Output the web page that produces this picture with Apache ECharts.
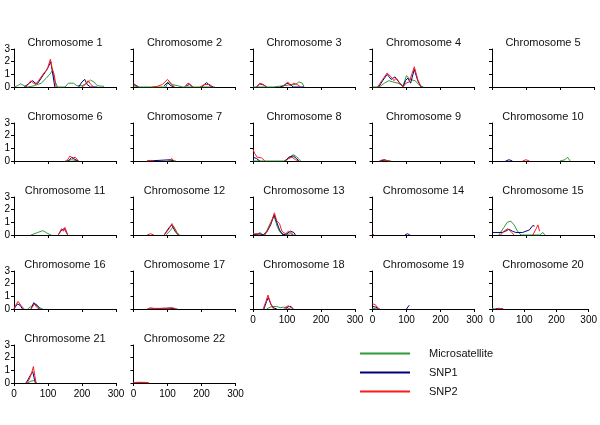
<!DOCTYPE html>
<html>
<head>
<meta charset="utf-8">
<script src="https://cdn.jsdelivr.net/npm/echarts@6/dist/echarts.min.js"></script>
<style>html,body{margin:0;padding:0;background:#fff}#c{width:600px;height:425px}</style>
</head>
<body>
<div id="c"></div>
<script>
const chromosomes = ['Chromosome 1','Chromosome 2','Chromosome 3','Chromosome 4','Chromosome 5',
  'Chromosome 6','Chromosome 7','Chromosome 8','Chromosome 9','Chromosome 10',
  'Chromosome 11','Chromosome 12','Chromosome 13','Chromosome 14','Chromosome 15',
  'Chromosome 16','Chromosome 17','Chromosome 18','Chromosome 19','Chromosome 20',
  'Chromosome 21','Chromosome 22'];
const seriesNames = ['Microsatellite','SNP1','SNP2'];
const xTicks = [0,100,200,300];
const yTicks = [0,1,2,3];

// Microsatellite: [position, value] per chromosome
const msData = [
  [[0,0],[10,0.1],[20,0.25],[30,0.1],[40,0],[60,0.1],[80,0.3],[95,0.7],[105,1.0],[113,1.3],[120,0.5],[128,0],[150,0],[160,0.3],[175,0.3],[185,0.1],[200,0.1],[215,0.3],[225,0.55],[235,0.4],[245,0.1],[265,0.05]],
  [[0,0.1],[15,0],[95,0],[102,0.4],[112,0.2],[130,0.1],[145,0],[240,0]],
  [[0,0],[60,0],[90,0.1],[105,0.15],[125,0.2],[135,0.4],[145,0.3],[150,0]],
  [[0,0],[20,0],[35,0.3],[48,0.5],[60,0.4],[75,0.3],[90,0.1],[100,0.9],[110,0.6],[125,0.5],[140,0.1],[150,0]],
  [],
  [[150,0],[170,0.1],[190,0]],
  [[100,0],[115,0.05],[125,0]],
  [[0,0],[90,0],[105,0.2],[118,0.5],[128,0.35],[140,0]],
  [[20,0],[40,0.05],[55,0]],
  [[200,0],[215,0.1],[222,0.3],[230,0]],
  [[50,0],[70,0.2],[85,0.35],[100,0.1],[110,0]],
  [[95,0],[110,0.4],[118,0.7],[128,0.2],[135,0]],
  [[10,0],[20,0.2],[30,0],[40,0.3],[52,1.0],[62,1.5],[72,0.6],[80,0.2],[95,0],[110,0.1],[120,0]],
  [],
  [[20,0],[35,0.6],[45,1.0],[55,1.1],[65,0.8],[75,0.3],[85,0],[140,0],[150,0.2],[155,0]],
  [[40,0],[55,0.3],[65,0.4],[75,0.1],[85,0]],
  [[100,0],[120,0.05],[130,0]],
  [[40,0],[55,0.2],[70,0.2],[80,0.1],[90,0.15],[100,0.1],[110,0]],
  [[0,0.05],[15,0]],
  [[0,0.05],[10,0]],
  [[40,0],[50,0.15],[60,0.2],[66,0]],
  [[0,0.02],[20,0.05],[45,0]]
];
const snp1Data = [
  [[30,0],[45,0.3],[55,0.5],[62,0.3],[70,0.3],[85,0.9],[95,1.3],[103,1.7],[108,2.0],[113,1.2],[120,0],'-',[190,0],[200,0.4],[208,0.6],[215,0.2],[225,0],[245,0]],
  [[0,0.2],[10,0.1],[15,0],'-',[90,0.1],[100,0.35],[110,0.1],[120,0],'-',[155,0.1],[165,0.2],[175,0],'-',[200,0],[215,0.35],[225,0.1],[235,0]],
  [[10,0],[20,0.25],[32,0.15],[40,0],'-',[80,0],[90,0.1],[100,0.3],[110,0.2],[118,0],[150,0]],
  [[18,0],[30,0.5],[43,1.0],[55,0.6],[66,0.8],[80,0.3],[90,0],[97,0.5],[104,0.7],[112,0.3],[123,1.4],[133,0.5],[143,0]],
  [],
  [[160,0],[170,0.3],[178,0.15],[188,0]],
  [[40,0],[110,0.1],[118,0]],
  [[0,0.3],[10,0.2],[20,0],'-',[95,0],[105,0.3],[118,0.4],[128,0.2],[135,0]],
  [[25,0],[35,0.1],[45,0]],
  [[40,0],[50,0.1],[60,0]],
  [[130,0],[140,0.4],[148,0.5],[152,0.3],[158,0]],
  [[90,0],[105,0.6],[113,0.8],[122,0.3],[132,0]],
  [[0,0],[20,0.1],[30,0],[40,0.2],[52,0.8],[62,1.6],[70,1.0],[78,0.4],[88,0],[100,0.1],[110,0.3],[120,0.2],[125,0]],
  [[95,0],[103,0.1],[110,0]],
  [[0,0.2],[30,0.2],[40,0.3],[50,0.45],[60,0.3],[70,0.2],[90,0.2],[100,0.3],[110,0.4],[120,0.75],[125,0.7]],
  [[0,0],[10,0.4],[18,0.3],[25,0],'-',[50,0],[58,0.5],[63,0.6],[70,0.2],[78,0]],
  [[45,0],[110,0.08],[120,0]],
  [[32,0],[40,0.6],[45,0.9],[52,0.4],[60,0.1],[70,0],'-',[95,0],[105,0.2],[112,0.2],[118,0]],
  [[0,0.2],[10,0.15],[18,0],'-',[100,0],[103,0.1],[108,0.3]],
  [[10,0],[20,0.05],[30,0.03],[35,0]],
  [[35,0],[42,0.3],[50,0.7],[55,0.9],[60,0.3],[63,0]],
  [[0,0],[20,0.03],[40,0]]
];
const snp2Data = [
  [[35,0],[50,0.5],[57,0.3],[65,0.2],[72,0.5],[88,1.1],[98,1.4],[107,2.2],[112,1.5],[118,1.0],[124,0],'-',[200,0],[210,0.2],[218,0.5],[226,0.2],[235,0]],
  [[0,0.3],[5,0.3],[12,0],'-',[55,0],[70,0.05],[85,0.2],[100,0.6],[110,0.3],[120,0],'-',[150,0],[160,0.3],[168,0.2],[175,0],'-',[195,0],[210,0.2],[225,0.2],[232,0]],
  [[10,0],[20,0.3],[30,0.2],[40,0],'-',[85,0],[95,0.2],[102,0.4],[110,0.1],[120,0.3],[130,0.2],[140,0]],
  [[15,0],[30,0.6],[43,1.1],[55,0.8],[63,0.5],[70,0.7],[78,0.4],[90,0],[98,0.3],[108,0.4],[123,1.6],[133,0.6],[143,0]],
  [],
  [[155,0],[165,0.4],[172,0.2],[180,0.3],[190,0]],
  [[40,0],[50,0.05],[60,0],'-',[105,0],[112,0.2],[120,0]],
  [[0,0.9],[5,0.6],[12,0.3],[25,0.25],[35,0],'-',[95,0],[105,0.2],[115,0.3],[125,0.1],[135,0]],
  [[20,0],[30,0.1],[40,0.05],[50,0]],
  [[90,0],[100,0.1],[110,0]],
  [[130,0],[140,0.5],[145,0.3],[150,0.6],[158,0]],
  [[40,0],[50,0.1],[60,0],'-',[90,0],[105,0.5],[113,0.9],[120,0.5],[130,0]],
  [[0,0.1],[15,0.1],[25,0],'-',[35,0],[45,0.5],[55,1.1],[63,1.75],[70,1.1],[78,0.9],[85,0.3],[95,0.1],[105,0.3],[112,0.2],[118,0]],
  [[0,0.1],[5,0]],
  [[25,0],[35,0.3],[47,0.5],[58,0.2],[65,0],'-',[120,0],[130,0.5],[135,0.8],[140,0.3]],
  [[0,0],[5,0.3],[12,0.6],[20,0.3],[30,0],'-',[50,0],[60,0.4],[68,0.1],[75,0]],
  [[40,0],[50,0.1],[60,0.05],[100,0.05],[115,0.1],[125,0]],
  [[30,0],[38,0.6],[44,1.1],[50,0.6],[57,0.1],[65,0],'-',[90,0],[98,0.2],[105,0.25],[112,0.1],[118,0]],
  [[0,0.4],[8,0.35],[15,0.1],[22,0]],
  [[15,0],[25,0.05],[35,0]],
  [[38,0],[45,0.3],[52,0.8],[57,1.3],[61,0.6],[65,0]],
  [[0,0.03],[10,0.05],[30,0.05],[45,0.03]]
];

const colors = ['#2f9a3a','#000080','#ff1a1a'];
const FONT = 'Liberation Sans, Arial, sans-serif';
const grids = [], xAxes = [], yAxes = [], titles = [], series = [];
const colLeft = j => 14 + 119.5 * j;
const rowTop = i => 49 + 74 * i;
chromosomes.forEach((name, k) => {
  const row = Math.floor(k / 5), col = k % 5;
  const left = colLeft(col), top = rowTop(row);
  grids.push({left: left, top: top, width: 102, height: 38});
  const showX = row === 4 || (row === 3 && col >= 2);
  xAxes.push({type: 'value', gridIndex: k, min: xTicks[0], max: xTicks[xTicks.length-1], interval: 100,
    axisLine: {show: true, onZero: false, lineStyle: {color: '#000', width: 1}},
    axisTick: {show: true, length: 3, lineStyle: {color: '#000'}},
    axisLabel: {show: showX, fontSize: 10, color: '#000', fontFamily: FONT, margin: 6},
    splitLine: {show: false}});
  yAxes.push({type: 'value', gridIndex: k, min: yTicks[0], max: yTicks[yTicks.length-1], interval: 1,
    axisLine: {show: true, lineStyle: {color: '#000', width: 1}},
    axisTick: {show: true, length: 3, lineStyle: {color: '#000'}},
    axisLabel: {show: col === 0, fontSize: 10, color: '#000', fontFamily: FONT, margin: 4},
    splitLine: {show: false}});
  titles.push({text: name, left: left + 51, top: top - 12, textAlign: 'center',
    textStyle: {fontSize: 11, fontWeight: 'normal', color: '#111', fontFamily: FONT}, padding: 0});
  [msData, snp1Data, snp2Data].forEach((arr, s) => {
    series.push({name: seriesNames[s], type: 'line', xAxisIndex: k, yAxisIndex: k,
      data: arr[k], showSymbol: false, symbol: 'none', smooth: false, connectNulls: false,
      lineStyle: {color: colors[s], width: 1}, itemStyle: {color: colors[s]}, silent: true});
  });
});

const chart = echarts.init(document.getElementById('c'), null, {renderer: 'canvas'});
chart.setOption({
  animation: false,
  backgroundColor: '#fff',
  title: titles,
  grid: grids,
  xAxis: xAxes,
  yAxis: yAxes,
  legend: {data: seriesNames, orient: 'vertical', left: 355, top: 342, itemWidth: 50, itemHeight: 2,
    itemGap: 6, icon: 'rect', selectedMode: false,
    textStyle: {fontSize: 11, color: '#111', fontFamily: FONT, padding: [0,0,0,14], lineHeight: 13}},
  series: series
});
</script>
</body>
</html>
